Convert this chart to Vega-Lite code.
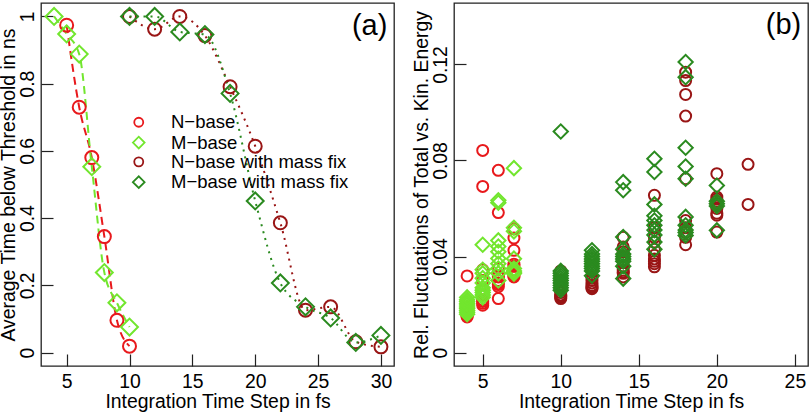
{
 "$schema": "https://vega.github.io/schema/vega-lite/v6.json",
 "padding": {"left": -3, "top": 2, "right": 0, "bottom": 0},
 "autosize": {"type": "pad"},
 "bounds": "flush",
 "spacing": 60,
 "config": {
  "font": "Liberation Sans",
  "view": {"stroke": "#222222", "strokeWidth": 1.3},
  "axis": {"grid": false, "domain": false, "tickSize": -12, "tickColor": "#222222", "tickWidth": 1.2, "labelFontSize": 19.4, "labelColor": "black", "titleFontSize": 19.4, "titleFontWeight": "normal", "titleColor": "black", "labelFont": "Liberation Sans", "titleFont": "Liberation Sans", "titleLimit": 1000, "labelFlush": false, "labelOverlap": false},
  "axisX": {"labelPadding": 27, "labelBaseline": "middle", "titlePadding": 2},
  "axisY": {"labelAngle": -90, "labelAlign": "center", "labelBaseline": "middle", "labelPadding": 26, "titleX": -32.5, "titleAngle": -90, "titleBaseline": "middle", "titleAlign": "center"}
 },
 "datasets": {
  "timeData": [
   {"series": "N−base", "step": 5, "time": 0.974},
   {"series": "N−base", "step": 6, "time": 0.730},
   {"series": "N−base", "step": 7, "time": 0.580},
   {"series": "N−base", "step": 8, "time": 0.345},
   {"series": "N−base", "step": 9, "time": 0.096},
   {"series": "N−base", "step": 10, "time": 0.019},
   {"series": "M−base", "step": 4, "time": 1.0},
   {"series": "M−base", "step": 5, "time": 0.948},
   {"series": "M−base", "step": 6, "time": 0.888},
   {"series": "M−base", "step": 7, "time": 0.553},
   {"series": "M−base", "step": 8, "time": 0.238},
   {"series": "M−base", "step": 9, "time": 0.148},
   {"series": "M−base", "step": 10, "time": 0.076},
   {"series": "N−base with mass fix", "step": 10, "time": 1.0},
   {"series": "N−base with mass fix", "step": 12, "time": 0.962},
   {"series": "N−base with mass fix", "step": 14, "time": 1.0},
   {"series": "N−base with mass fix", "step": 16, "time": 0.943},
   {"series": "N−base with mass fix", "step": 18, "time": 0.791},
   {"series": "N−base with mass fix", "step": 20, "time": 0.614},
   {"series": "N−base with mass fix", "step": 22, "time": 0.386},
   {"series": "N−base with mass fix", "step": 24, "time": 0.126},
   {"series": "N−base with mass fix", "step": 26, "time": 0.136},
   {"series": "N−base with mass fix", "step": 28, "time": 0.032},
   {"series": "N−base with mass fix", "step": 30, "time": 0.017},
   {"series": "M−base with mass fix", "step": 10, "time": 1.0},
   {"series": "M−base with mass fix", "step": 12, "time": 1.0},
   {"series": "M−base with mass fix", "step": 14, "time": 0.954},
   {"series": "M−base with mass fix", "step": 16, "time": 0.946},
   {"series": "M−base with mass fix", "step": 18, "time": 0.771},
   {"series": "M−base with mass fix", "step": 20, "time": 0.451},
   {"series": "M−base with mass fix", "step": 22, "time": 0.207},
   {"series": "M−base with mass fix", "step": 24, "time": 0.136},
   {"series": "M−base with mass fix", "step": 26, "time": 0.103},
   {"series": "M−base with mass fix", "step": 28, "time": 0.030},
   {"series": "M−base with mass fix", "step": 30, "time": 0.051}
  ],
  "flucData": [
   {"series": "N−base", "step": 4, "fluct": 0.0319},
   {"series": "N−base", "step": 4, "fluct": 0.0148},
   {"series": "N−base", "step": 4, "fluct": 0.0152},
   {"series": "N−base", "step": 4, "fluct": 0.0156},
   {"series": "N−base", "step": 4, "fluct": 0.016},
   {"series": "N−base", "step": 4, "fluct": 0.0165},
   {"series": "N−base", "step": 4, "fluct": 0.017},
   {"series": "N−base", "step": 4, "fluct": 0.0175},
   {"series": "N−base", "step": 4, "fluct": 0.018},
   {"series": "N−base", "step": 4, "fluct": 0.019},
   {"series": "N−base", "step": 5, "fluct": 0.0842},
   {"series": "N−base", "step": 5, "fluct": 0.0692},
   {"series": "N−base", "step": 5, "fluct": 0.0345},
   {"series": "N−base", "step": 5, "fluct": 0.030},
   {"series": "N−base", "step": 5, "fluct": 0.026},
   {"series": "N−base", "step": 5, "fluct": 0.024},
   {"series": "N−base", "step": 5, "fluct": 0.022},
   {"series": "N−base", "step": 5, "fluct": 0.0213},
   {"series": "N−base", "step": 5, "fluct": 0.0205},
   {"series": "N−base", "step": 5, "fluct": 0.0197},
   {"series": "N−base", "step": 6, "fluct": 0.0759},
   {"series": "N−base", "step": 6, "fluct": 0.0583},
   {"series": "N−base", "step": 6, "fluct": 0.035},
   {"series": "N−base", "step": 6, "fluct": 0.032},
   {"series": "N−base", "step": 6, "fluct": 0.030},
   {"series": "N−base", "step": 6, "fluct": 0.029},
   {"series": "N−base", "step": 6, "fluct": 0.0283},
   {"series": "N−base", "step": 6, "fluct": 0.0274},
   {"series": "N−base", "step": 6, "fluct": 0.0225},
   {"series": "N−base", "step": 6, "fluct": 0.0315},
   {"series": "N−base", "step": 7, "fluct": 0.0516},
   {"series": "N−base", "step": 7, "fluct": 0.0477},
   {"series": "N−base", "step": 7, "fluct": 0.0426},
   {"series": "N−base", "step": 7, "fluct": 0.0368},
   {"series": "N−base", "step": 7, "fluct": 0.0343},
   {"series": "N−base", "step": 7, "fluct": 0.0315},
   {"series": "N−base", "step": 7, "fluct": 0.033},
   {"series": "N−base", "step": 7, "fluct": 0.0325},
   {"series": "N−base", "step": 7, "fluct": 0.036},
   {"series": "N−base", "step": 7, "fluct": 0.032},
   {"series": "M−base", "step": 4, "fluct": 0.016},
   {"series": "M−base", "step": 4, "fluct": 0.0168},
   {"series": "M−base", "step": 4, "fluct": 0.0175},
   {"series": "M−base", "step": 4, "fluct": 0.0183},
   {"series": "M−base", "step": 4, "fluct": 0.019},
   {"series": "M−base", "step": 4, "fluct": 0.0198},
   {"series": "M−base", "step": 4, "fluct": 0.0205},
   {"series": "M−base", "step": 4, "fluct": 0.0213},
   {"series": "M−base", "step": 4, "fluct": 0.022},
   {"series": "M−base", "step": 4, "fluct": 0.023},
   {"series": "M−base", "step": 5, "fluct": 0.0449},
   {"series": "M−base", "step": 5, "fluct": 0.0345},
   {"series": "M−base", "step": 5, "fluct": 0.033},
   {"series": "M−base", "step": 5, "fluct": 0.031},
   {"series": "M−base", "step": 5, "fluct": 0.029},
   {"series": "M−base", "step": 5, "fluct": 0.027},
   {"series": "M−base", "step": 5, "fluct": 0.026},
   {"series": "M−base", "step": 5, "fluct": 0.025},
   {"series": "M−base", "step": 5, "fluct": 0.024},
   {"series": "M−base", "step": 5, "fluct": 0.023},
   {"series": "M−base", "step": 6, "fluct": 0.0634},
   {"series": "M−base", "step": 6, "fluct": 0.0624},
   {"series": "M−base", "step": 6, "fluct": 0.0467},
   {"series": "M−base", "step": 6, "fluct": 0.0442},
   {"series": "M−base", "step": 6, "fluct": 0.042},
   {"series": "M−base", "step": 6, "fluct": 0.0392},
   {"series": "M−base", "step": 6, "fluct": 0.037},
   {"series": "M−base", "step": 6, "fluct": 0.035},
   {"series": "M−base", "step": 6, "fluct": 0.033},
   {"series": "M−base", "step": 6, "fluct": 0.030},
   {"series": "M−base", "step": 7, "fluct": 0.0768},
   {"series": "M−base", "step": 7, "fluct": 0.052},
   {"series": "M−base", "step": 7, "fluct": 0.0505},
   {"series": "M−base", "step": 7, "fluct": 0.0391},
   {"series": "M−base", "step": 7, "fluct": 0.035},
   {"series": "M−base", "step": 7, "fluct": 0.0329},
   {"series": "M−base", "step": 7, "fluct": 0.0335},
   {"series": "M−base", "step": 7, "fluct": 0.034},
   {"series": "N−base with mass fix", "step": 10, "fluct": 0.034},
   {"series": "N−base with mass fix", "step": 10, "fluct": 0.030},
   {"series": "N−base with mass fix", "step": 10, "fluct": 0.028},
   {"series": "N−base with mass fix", "step": 10, "fluct": 0.027},
   {"series": "N−base with mass fix", "step": 10, "fluct": 0.026},
   {"series": "N−base with mass fix", "step": 10, "fluct": 0.025},
   {"series": "N−base with mass fix", "step": 10, "fluct": 0.024},
   {"series": "N−base with mass fix", "step": 10, "fluct": 0.0235},
   {"series": "N−base with mass fix", "step": 10, "fluct": 0.023},
   {"series": "N−base with mass fix", "step": 10, "fluct": 0.0225},
   {"series": "N−base with mass fix", "step": 12, "fluct": 0.036},
   {"series": "N−base with mass fix", "step": 12, "fluct": 0.034},
   {"series": "N−base with mass fix", "step": 12, "fluct": 0.032},
   {"series": "N−base with mass fix", "step": 12, "fluct": 0.031},
   {"series": "N−base with mass fix", "step": 12, "fluct": 0.030},
   {"series": "N−base with mass fix", "step": 12, "fluct": 0.029},
   {"series": "N−base with mass fix", "step": 12, "fluct": 0.028},
   {"series": "N−base with mass fix", "step": 12, "fluct": 0.0275},
   {"series": "N−base with mass fix", "step": 12, "fluct": 0.027},
   {"series": "N−base with mass fix", "step": 12, "fluct": 0.0266},
   {"series": "N−base with mass fix", "step": 14, "fluct": 0.048},
   {"series": "N−base with mass fix", "step": 14, "fluct": 0.044},
   {"series": "N−base with mass fix", "step": 14, "fluct": 0.042},
   {"series": "N−base with mass fix", "step": 14, "fluct": 0.040},
   {"series": "N−base with mass fix", "step": 14, "fluct": 0.038},
   {"series": "N−base with mass fix", "step": 14, "fluct": 0.036},
   {"series": "N−base with mass fix", "step": 14, "fluct": 0.0343},
   {"series": "N−base with mass fix", "step": 14, "fluct": 0.0336},
   {"series": "N−base with mass fix", "step": 14, "fluct": 0.0315},
   {"series": "N−base with mass fix", "step": 14, "fluct": 0.033},
   {"series": "N−base with mass fix", "step": 16, "fluct": 0.0655},
   {"series": "N−base with mass fix", "step": 16, "fluct": 0.052},
   {"series": "N−base with mass fix", "step": 16, "fluct": 0.048},
   {"series": "N−base with mass fix", "step": 16, "fluct": 0.046},
   {"series": "N−base with mass fix", "step": 16, "fluct": 0.043},
   {"series": "N−base with mass fix", "step": 16, "fluct": 0.0405},
   {"series": "N−base with mass fix", "step": 16, "fluct": 0.039},
   {"series": "N−base with mass fix", "step": 16, "fluct": 0.038},
   {"series": "N−base with mass fix", "step": 16, "fluct": 0.037},
   {"series": "N−base with mass fix", "step": 16, "fluct": 0.0357},
   {"series": "N−base with mass fix", "step": 18, "fluct": 0.1168},
   {"series": "N−base with mass fix", "step": 18, "fluct": 0.1133},
   {"series": "N−base with mass fix", "step": 18, "fluct": 0.1075},
   {"series": "N−base with mass fix", "step": 18, "fluct": 0.0985},
   {"series": "N−base with mass fix", "step": 18, "fluct": 0.0724},
   {"series": "N−base with mass fix", "step": 18, "fluct": 0.055},
   {"series": "N−base with mass fix", "step": 18, "fluct": 0.052},
   {"series": "N−base with mass fix", "step": 18, "fluct": 0.050},
   {"series": "N−base with mass fix", "step": 18, "fluct": 0.048},
   {"series": "N−base with mass fix", "step": 18, "fluct": 0.0449},
   {"series": "N−base with mass fix", "step": 20, "fluct": 0.0745},
   {"series": "N−base with mass fix", "step": 20, "fluct": 0.0648},
   {"series": "N−base with mass fix", "step": 20, "fluct": 0.064},
   {"series": "N−base with mass fix", "step": 20, "fluct": 0.063},
   {"series": "N−base with mass fix", "step": 20, "fluct": 0.062},
   {"series": "N−base with mass fix", "step": 20, "fluct": 0.060},
   {"series": "N−base with mass fix", "step": 20, "fluct": 0.058},
   {"series": "N−base with mass fix", "step": 20, "fluct": 0.0572},
   {"series": "N−base with mass fix", "step": 20, "fluct": 0.0502},
   {"series": "N−base with mass fix", "step": 20, "fluct": 0.061},
   {"series": "N−base with mass fix", "step": 22, "fluct": 0.0784},
   {"series": "N−base with mass fix", "step": 22, "fluct": 0.0617},
   {"series": "M−base with mass fix", "step": 10, "fluct": 0.0921},
   {"series": "M−base with mass fix", "step": 10, "fluct": 0.034},
   {"series": "M−base with mass fix", "step": 10, "fluct": 0.033},
   {"series": "M−base with mass fix", "step": 10, "fluct": 0.032},
   {"series": "M−base with mass fix", "step": 10, "fluct": 0.031},
   {"series": "M−base with mass fix", "step": 10, "fluct": 0.030},
   {"series": "M−base with mass fix", "step": 10, "fluct": 0.029},
   {"series": "M−base with mass fix", "step": 10, "fluct": 0.028},
   {"series": "M−base with mass fix", "step": 10, "fluct": 0.027},
   {"series": "M−base with mass fix", "step": 10, "fluct": 0.026},
   {"series": "M−base with mass fix", "step": 12, "fluct": 0.0426},
   {"series": "M−base with mass fix", "step": 12, "fluct": 0.041},
   {"series": "M−base with mass fix", "step": 12, "fluct": 0.040},
   {"series": "M−base with mass fix", "step": 12, "fluct": 0.039},
   {"series": "M−base with mass fix", "step": 12, "fluct": 0.038},
   {"series": "M−base with mass fix", "step": 12, "fluct": 0.037},
   {"series": "M−base with mass fix", "step": 12, "fluct": 0.036},
   {"series": "M−base with mass fix", "step": 12, "fluct": 0.035},
   {"series": "M−base with mass fix", "step": 12, "fluct": 0.034},
   {"series": "M−base with mass fix", "step": 12, "fluct": 0.032},
   {"series": "M−base with mass fix", "step": 14, "fluct": 0.071},
   {"series": "M−base with mass fix", "step": 14, "fluct": 0.0676},
   {"series": "M−base with mass fix", "step": 14, "fluct": 0.0481},
   {"series": "M−base with mass fix", "step": 14, "fluct": 0.043},
   {"series": "M−base with mass fix", "step": 14, "fluct": 0.041},
   {"series": "M−base with mass fix", "step": 14, "fluct": 0.040},
   {"series": "M−base with mass fix", "step": 14, "fluct": 0.039},
   {"series": "M−base with mass fix", "step": 14, "fluct": 0.038},
   {"series": "M−base with mass fix", "step": 14, "fluct": 0.036},
   {"series": "M−base with mass fix", "step": 14, "fluct": 0.0308},
   {"series": "M−base with mass fix", "step": 16, "fluct": 0.0807},
   {"series": "M−base with mass fix", "step": 16, "fluct": 0.0752},
   {"series": "M−base with mass fix", "step": 16, "fluct": 0.0617},
   {"series": "M−base with mass fix", "step": 16, "fluct": 0.057},
   {"series": "M−base with mass fix", "step": 16, "fluct": 0.055},
   {"series": "M−base with mass fix", "step": 16, "fluct": 0.053},
   {"series": "M−base with mass fix", "step": 16, "fluct": 0.051},
   {"series": "M−base with mass fix", "step": 16, "fluct": 0.049},
   {"series": "M−base with mass fix", "step": 16, "fluct": 0.046},
   {"series": "M−base with mass fix", "step": 16, "fluct": 0.043},
   {"series": "M−base with mass fix", "step": 18, "fluct": 0.121},
   {"series": "M−base with mass fix", "step": 18, "fluct": 0.1147},
   {"series": "M−base with mass fix", "step": 18, "fluct": 0.0853},
   {"series": "M−base with mass fix", "step": 18, "fluct": 0.0775},
   {"series": "M−base with mass fix", "step": 18, "fluct": 0.0724},
   {"series": "M−base with mass fix", "step": 18, "fluct": 0.0565},
   {"series": "M−base with mass fix", "step": 18, "fluct": 0.053},
   {"series": "M−base with mass fix", "step": 18, "fluct": 0.051},
   {"series": "M−base with mass fix", "step": 18, "fluct": 0.050},
   {"series": "M−base with mass fix", "step": 18, "fluct": 0.0488},
   {"series": "M−base with mass fix", "step": 20, "fluct": 0.0696},
   {"series": "M−base with mass fix", "step": 20, "fluct": 0.062},
   {"series": "M−base with mass fix", "step": 20, "fluct": 0.0509},
   {"series": "M−base with mass fix", "step": 20, "fluct": 0.061},
   {"series": "M−base with mass fix", "step": 20, "fluct": 0.063}
  ]
 },
 "resolve": {"scale": {"color": "independent", "stroke": "independent", "shape": "independent", "strokeDash": "independent"}, "legend": {"color": "independent", "shape": "independent"}},
 "hconcat": [
  {
   "width": 353,
   "height": 363,
   "layer": [
    {
     "data": {"name": "timeData"},
     "mark": {"type": "line", "interpolate": "monotone", "strokeWidth": 2},
     "encoding": {
      "x": {"field": "step", "type": "quantitative", "scale": {"domain": [2.96, 31.04], "nice": false, "zero": false}, "axis": {"title": "Integration Time Step in fs", "values": [5, 10, 15, 20, 25, 30]}},
      "y": {"field": "time", "type": "quantitative", "scale": {"domain": [-0.04, 1.04], "nice": false, "zero": false}, "axis": {"title": "Average Time below Threshold in ns", "values": [0, 0.2, 0.4, 0.6, 0.8, 1], "format": "~g"}},
      "stroke": {"field": "series", "type": "nominal", "scale": {"range": ["#72E62E", "#2A8A1F", "#E8191C", "#991515"]}, "legend": null},
      "strokeDash": {"field": "series", "type": "nominal", "scale": {"range": [[8, 5], [2, 5], [8, 5], [2, 5]]}, "legend": null}
     }
    },
    {
     "data": {"name": "timeData"},
     "mark": {"type": "point", "filled": false, "size": 169, "strokeWidth": 2, "opacity": 1},
     "encoding": {
      "x": {"field": "step", "type": "quantitative"},
      "y": {"field": "time", "type": "quantitative"},
      "color": {"field": "series", "type": "nominal", "scale": {"domain": ["N−base", "M−base", "N−base with mass fix", "M−base with mass fix"], "range": ["#E8191C", "#72E62E", "#991515", "#2A8A1F"]}, "legend": {
        "orient": "none", "legendX": 88.5, "legendY": 110, "title": null,
        "labelFontSize": 18.5, "labelLimit": 400, "labelOffset": 23, "labelColor": "black",
        "padding": 0, "rowPadding": 0.3, "symbolSize": 81, "symbolStrokeWidth": 1.8,
        "symbolFillColor": "transparent"
      }},
      "shape": {"field": "series", "type": "nominal", "scale": {"domain": ["N−base", "M−base", "N−base with mass fix", "M−base with mass fix"], "range": ["circle", "M-1.3,0L0,-1.3L1.3,0L0,1.3Z", "circle", "M-1.3,0L0,-1.3L1.3,0L0,1.3Z"]}, "legend": {
        "orient": "none", "legendX": 88.5, "legendY": 110, "title": null,
        "labelFontSize": 18.5, "labelLimit": 400, "labelOffset": 23, "labelColor": "black",
        "padding": 0, "rowPadding": 0.3, "symbolSize": 81, "symbolStrokeWidth": 1.8,
        "symbolFillColor": "transparent"
      }}
     }
    },
    {
     "data": {"values": [{"step": 29.1, "time": 0.973, "label": "(a)"}]},
     "mark": {"type": "text", "fontSize": 29, "color": "black", "align": "center", "baseline": "middle"},
     "encoding": {
      "x": {"field": "step", "type": "quantitative"},
      "y": {"field": "time", "type": "quantitative"},
      "text": {"field": "label", "type": "nominal"}
     }
    }
   ]
  },
  {
   "width": 354,
   "height": 363,
   "layer": [
    {
     "data": {"name": "flucData"},
     "mark": {"type": "point", "filled": false, "size": 121, "strokeWidth": 2, "opacity": 1},
     "encoding": {
      "x": {"field": "step", "type": "quantitative", "scale": {"domain": [3.16, 25.84], "nice": false, "zero": false}, "axis": {"title": "Integration Time Step in fs", "values": [5, 10, 15, 20, 25]}},
      "y": {"field": "fluct", "type": "quantitative", "scale": {"domain": [-0.0056, 0.1456], "nice": false, "zero": false}, "axis": {"title": "Rel. Fluctuations of Total vs. Kin. Energy", "values": [0, 0.04, 0.08, 0.12], "format": "~g"}},
      "color": {"field": "series", "type": "nominal", "scale": {"domain": ["N−base", "M−base", "N−base with mass fix", "M−base with mass fix"], "range": ["#E8191C", "#72E62E", "#991515", "#2A8A1F"]}, "legend": null},
      "shape": {"field": "series", "type": "nominal", "scale": {"domain": ["N−base", "M−base", "N−base with mass fix", "M−base with mass fix"], "range": ["circle", "M-1.3,0L0,-1.3L1.3,0L0,1.3Z", "circle", "M-1.3,0L0,-1.3L1.3,0L0,1.3Z"]}, "legend": null}
     }
    },
    {
     "data": {"values": [{"step": 24.27, "fluct": 0.1364, "label": "(b)"}]},
     "mark": {"type": "text", "fontSize": 29, "color": "black", "align": "center", "baseline": "middle"},
     "encoding": {
      "x": {"field": "step", "type": "quantitative"},
      "y": {"field": "fluct", "type": "quantitative"},
      "text": {"field": "label", "type": "nominal"}
     }
    }
   ]
  }
 ]
}
